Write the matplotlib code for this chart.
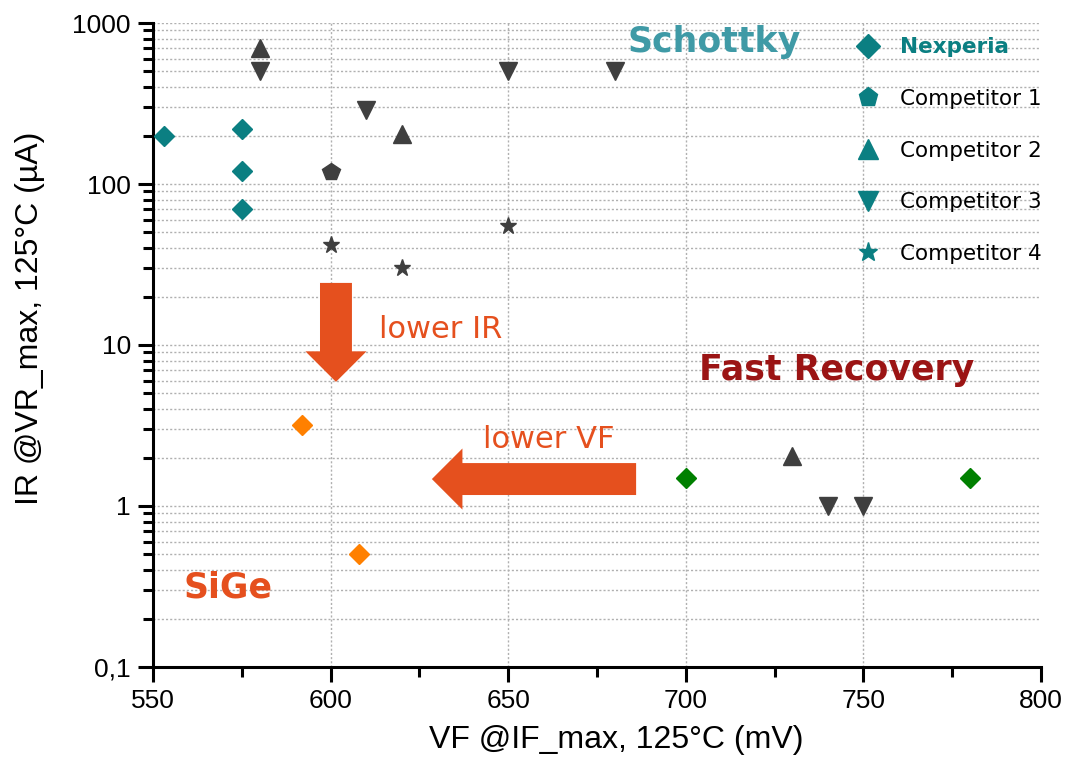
import matplotlib
matplotlib.use("Agg")
import matplotlib.pyplot as plt
from matplotlib.lines import Line2D
from matplotlib.ticker import FixedLocator, LogLocator, NullFormatter

# data (VF in mV, IR in uA)
nexperia_vf = [553, 575, 575, 575]
nexperia_ir = [200, 220, 120, 70]

comp1_vf = [600]
comp1_ir = [118]

comp2_vf = [580, 620, 730]
comp2_ir = [700, 205, 2.05]

comp3_vf = [580, 610, 650, 680, 740, 750]
comp3_ir = [500, 290, 500, 500, 1.0, 1.0]

comp4_vf = [600, 620, 650]
comp4_ir = [42, 30, 55]

sige_vf = [592, 608]
sige_ir = [3.2, 0.5]

fastrec_vf = [700, 780]
fastrec_ir = [1.5, 1.5]

legend_labels = ["Nexperia", "Competitor 1", "Competitor 2", "Competitor 3", "Competitor 4"]
legend_markers = ["D", "p", "^", "v", "*"]

xticks = [550, 600, 650, 700, 750, 800]
xminor = [575, 625, 675, 725, 775]
yticks = [0.1, 1, 10, 100, 1000]
ytick_labels = ["0,1", "1", "10", "100", "1000"]

teal = "#0b7f82"
grey = "#3f3f3f"
arrow_col = "#e5501e"
gridc = "#b0b0b0"

# axis texts in an Arial-like face, annotations in a Verdana-like face
plt.rcParams["font.family"] = ["Liberation Sans", "DejaVu Sans"]
verdana = ["DejaVu Sans"]

fig = plt.figure(figsize=(10.65, 7.62), dpi=100)
ax = fig.add_axes([0.1437, 0.1247, 0.8338, 0.8451])
ax.set_axisbelow(True)

ax.set_yscale("log")
ax.set_xlim(550, 800)
ax.set_ylim(0.1, 1000)

ax.plot(nexperia_vf, nexperia_ir, "D", color=teal, ms=10.5, ls="none", zorder=3)
ax.plot(comp1_vf, comp1_ir, "p", color=grey, ms=13, ls="none", zorder=3)
ax.plot(comp2_vf, comp2_ir, "^", color=grey, ms=13, ls="none", zorder=3)
ax.plot(comp3_vf, comp3_ir, "v", color=grey, ms=13, ls="none", zorder=3)
ax.plot(comp4_vf, comp4_ir, "*", color=grey, ms=12.5, ls="none", zorder=3)
ax.plot(sige_vf, sige_ir, "D", color="#ff8000", ms=10.5, ls="none", zorder=3)
ax.plot(fastrec_vf, fastrec_ir, "D", color="#008000", ms=10.5, ls="none", zorder=3)

# ticks and grid
ax.xaxis.set_major_locator(FixedLocator(xticks))
ax.xaxis.set_minor_locator(FixedLocator(xminor))
ax.yaxis.set_major_locator(FixedLocator(yticks))
ax.yaxis.set_minor_locator(LogLocator(base=10, subs=range(2, 10)))
ax.yaxis.set_minor_formatter(NullFormatter())
ax.set_yticklabels(ytick_labels)
ax.grid(True, which="both", axis="y", ls=(0, (1.5, 1.5)), color=gridc, lw=1)
for x in xticks[1:-1]:
    ax.axvline(x, ls=(0, (1.5, 1.5)), color=gridc, lw=1, zorder=0.5)

for s in ["top", "right"]:
    ax.spines[s].set_visible(False)
for s in ["left", "bottom"]:
    ax.spines[s].set_linewidth(2.2)
ax.tick_params(which="major", direction="out", length=11, width=2.2, labelsize=19, pad=5)
ax.tick_params(which="minor", direction="out", length=7, width=2.2)

ax.set_xlabel("VF @IF_max, 125°C (mV)", fontsize=23)
ax.set_ylabel("IR @VR_max, 125°C (µA)", fontsize=23)
ax.xaxis.set_label_coords(0.522, -0.09)
ax.yaxis.set_label_coords(-0.122, 0.542)

# region labels
ax.text(708, 760, "Schottky", color="#3f9aa6", fontsize=25, fontweight="bold",
        family=verdana, ha="center", va="center")
ax.text(742.5, 7.0, "Fast Recovery", color="#9b1414", fontsize=25, fontweight="bold",
        family=verdana, ha="center", va="center")
ax.text(571, 0.31, "SiGe", color=arrow_col, fontsize=25, fontweight="bold",
        family=verdana, ha="center", va="center")
ax.text(631, 12.4, "lower IR", color=arrow_col, fontsize=22, family=verdana,
        ha="center", va="center")
ax.text(661.5, 2.6, "lower VF", color=arrow_col, fontsize=22, family=verdana,
        ha="center", va="center")

# arrows
astyle = "simple,head_length=2.2,head_width=4.4,tail_width=2.3"
ax.annotate("", xy=(601.5, 5.9), xytext=(601.5, 24.3),
            arrowprops=dict(arrowstyle=astyle, color=arrow_col, mutation_scale=10,
                            shrinkA=0, shrinkB=0, lw=0))
ax.annotate("", xy=(628.5, 1.47), xytext=(686, 1.47),
            arrowprops=dict(arrowstyle=astyle, color=arrow_col, mutation_scale=10,
                            shrinkA=0, shrinkB=0, lw=0))

# legend, all handles in teal
handles = [Line2D([], [], marker=m, color=teal, ls="none",
                  ms=(12 if m == "D" else 14)) for m in legend_markers]
leg = ax.legend(handles, legend_labels, loc="upper left", bbox_to_anchor=(0.759, 1.008),
                frameon=False, prop={"family": verdana, "size": 15.5},
                labelspacing=1.47, handletextpad=0.5)
texts = leg.get_texts()
texts[0].set_color(teal)
texts[0].set_fontweight("bold")

fig.savefig("out.png", dpi=100)
